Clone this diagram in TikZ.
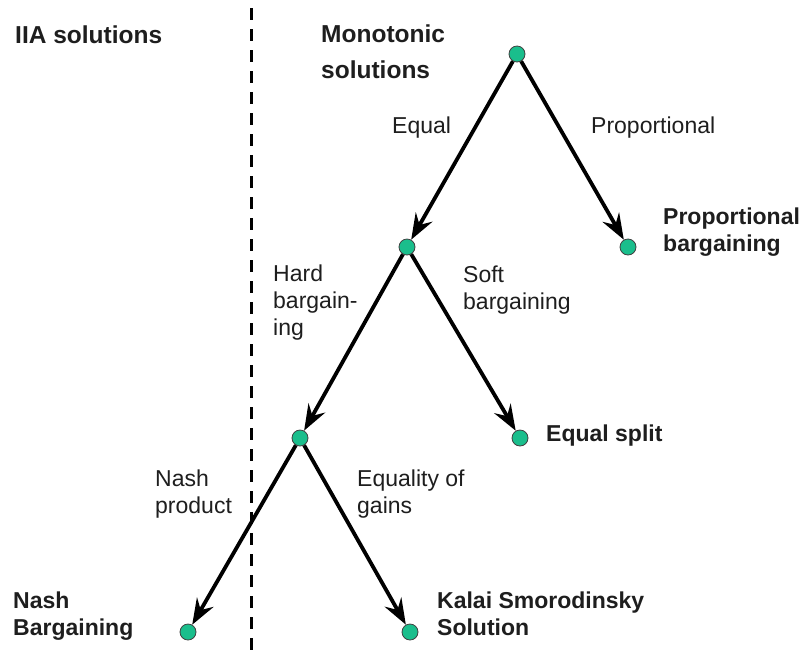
\documentclass[tikz,border=0pt]{standalone}
\usepackage{fontspec}
\setmainfont{Liberation Sans}
\usetikzlibrary{arrows.meta}
\definecolor{dotgreen}{RGB}{26,190,140}
\definecolor{txt}{RGB}{30,30,30}
\tikzset{
  dot/.style={circle,minimum size=16pt,inner sep=0pt,fill=dotgreen,draw=black!75,line width=0.8pt},
  arr/.style={line width=3.8pt,-{Stealth[length=26pt,width=19pt,inset=9pt]}},
  lbl/.style={inner sep=0pt,anchor=base west,align=left,text=txt,font=\fontsize{23}{27}\selectfont},
  blbl/.style={lbl,font=\fontsize{23}{27}\selectfont\bfseries},
  hdr/.style={lbl,font=\fontsize{24.5}{36}\selectfont\bfseries}
}
\begin{document}
\begin{tikzpicture}[x=1pt,y=-1pt]
\useasboundingbox (0,0) rectangle (806,657);
\fill[white] (0,0) rectangle (806,657);
% dashed divider
\draw[line width=3pt,dash pattern=on 12pt off 9pt] (251,8) -- (251,657);
% dots
\node[dot] (root) at (517,54) {};
\node[dot] (prop) at (628,247) {};
\node[dot] (eq) at (407,247) {};
\node[dot] (split) at (520,438) {};
\node[dot] (hard) at (300,438) {};
\node[dot] (nash) at (188,632) {};
\node[dot] (ks) at (410,632) {};
% arrows
\draw[arr] (root) -- (prop);
\draw[arr] (root) -- (eq);
\draw[arr] (eq) -- (split);
\draw[arr] (eq) -- (hard);
\draw[arr] (hard) -- (nash);
\draw[arr] (hard) -- (ks);
% headers (anchor = baseline of last line)
\node[hdr] (hiia) at (15,43) {IIA solutions};
\node[hdr] (hmono) at (321,78) {Monotonic\\solutions};
% edge labels
\node[lbl] (lequal) at (392,133) {Equal};
\node[lbl] (lprop) at (591,133) {Proportional};
\node[lbl] (lhard) at (273,335) {Hard\\bargain-\\ing};
\node[lbl] (lsoft) at (463,309) {Soft\\bargaining};
\node[lbl] (lnashp) at (155,513) {Nash\\product};
\node[lbl] (lgains) at (357,513) {Equality of\\gains};
% outcome labels
\node[blbl] (tprop) at (663,251) {Proportional\\bargaining};
\node[blbl] (tsplit) at (546,441) {Equal split};
\node[blbl] (tnash) at (13,635) {Nash\\Bargaining};
\node[blbl] (tks) at (437,635) {Kalai Smorodinsky\\Solution};
\end{tikzpicture}
\end{document}
